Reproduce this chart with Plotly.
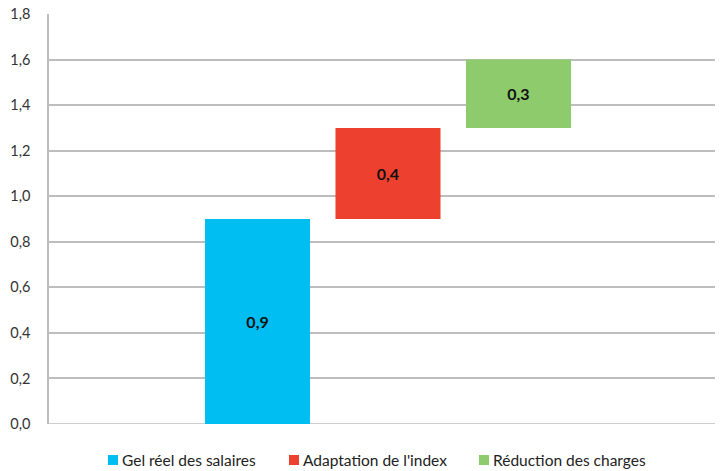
import plotly.graph_objects as go

categories = ["Gel réel des salaires", "Adaptation de l'index", "Réduction des charges"]
values = [0.9, 0.4, 0.3]
bases = [0.0, 0.9, 1.3]
labels = ["0,9", "0,4", "0,3"]
colors = ["#00BDF2", "#EE402E", "#8DCB6C"]
positions = [1, 2, 3]
y_ticks = [0.0, 0.2, 0.4, 0.6, 0.8, 1.0, 1.2, 1.4, 1.6, 1.8]
y_tick_labels = ["0,0", "0,2", "0,4", "0,6", "0,8", "1,0", "1,2", "1,4", "1,6", "1,8"]

FONT = "Lato"

fig = go.Figure()
for name, v, b, lab, c, p in zip(categories, values, bases, labels, colors, positions):
    fig.add_trace(go.Bar(
        x=[p], y=[v], base=[b], name=name, width=0.805,
        marker=dict(color=c, line=dict(width=0)),
        text=[lab], textposition="inside", insidetextanchor="middle",
        textfont=dict(family=FONT, size=16, color="#111111", weight="bold"),
        hoverinfo="skip", showlegend=False,
    ))

# custom legend (square + label) below the plot
L, W, B, H = 49, 666, 424, 410
legend_x = [108, 289, 479]
for name, c, lx in zip(categories, colors, legend_x):
    fig.add_shape(type="rect", xref="paper", yref="paper",
                  x0=(lx - L) / W, x1=(lx + 10 - L) / W,
                  y0=(B - 465) / H, y1=(B - 455) / H,
                  fillcolor=c, line=dict(width=0))
    fig.add_annotation(text=name, xref="paper", yref="paper",
                       x=(lx + 12 - L) / W, y=(B - 460) / H,
                       xanchor="left", yanchor="middle", showarrow=False,
                       font=dict(family=FONT, size=15.5, color="#222222"))

fig.update_layout(
    width=720, height=471,
    margin=dict(l=49, r=5, t=14, b=47),
    paper_bgcolor="white", plot_bgcolor="white",
    font=dict(family=FONT, size=14, color="#333333"),
    barmode="overlay",
    showlegend=False,
    xaxis=dict(range=[-0.598, 4.506], showticklabels=False, showgrid=False,
               zeroline=False, showline=False, ticks=""),
    yaxis=dict(range=[0, 1.8], tickvals=y_ticks, ticktext=y_tick_labels,
               showgrid=True, gridcolor="#BDBDBD", gridwidth=1.5,
               zeroline=False, showline=True, linecolor="#BDBDBD", linewidth=1.5,
               ticks="", ticklabelstandoff=14,
               tickfont=dict(family=FONT, size=14.5, color="#333333")),
)
fig.add_shape(type="line", xref="paper", yref="y", x0=0, x1=1, y0=0, y1=0,
              line=dict(color="#BDBDBD", width=1.5), layer="below")

fig.write_html("out.html")
